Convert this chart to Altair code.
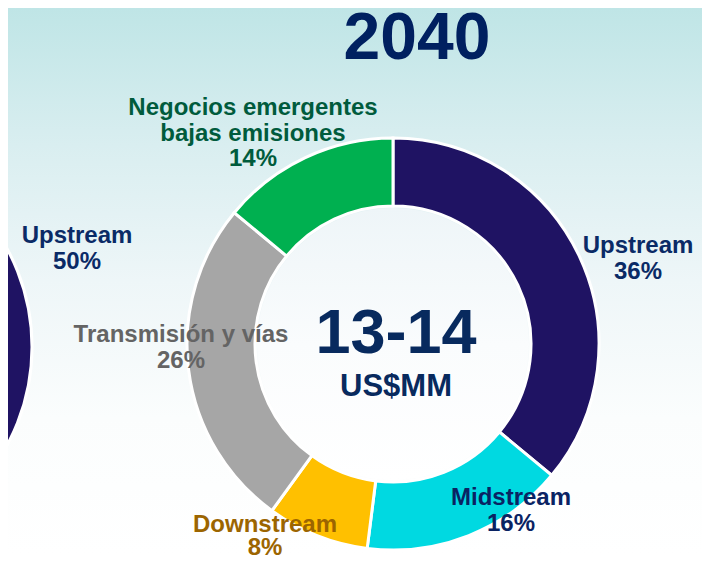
import math
import altair as alt
import pandas as pd

# ---- data ----
categorias = ["Upstream", "Midstream", "Downstream", "Transmisión y vías", "Negocios emergentes bajas emisiones"]
valores = [36, 16, 8, 26, 14]
colores = ["#1f1363", "#00d9e1", "#ffc000", "#a6a6a6", "#00b050"]

izq_categorias = ["Upstream"]
izq_valores = [50]

etiquetas = ["Upstream\n36%", "Midstream\n16%", "Downstream\n8%", "Transmisión y vías\n26%",
             "Negocios emergentes\nbajas emisiones\n14%"]
etiqueta_colores = ["#0a2a66", "#0a2363", "#9c6500", "#646464", "#005b3c"]
etiqueta_izq = "Upstream\n50%"
titulo = "2040"
centro_valor = "13-14"
centro_unidad = "US$MM"

W, H = 694, 547
CX, CY = 385, 336          # main donut centre (chart coords)
LCX, LCY = -182, 339       # left (cut-off) donut centre
R_OUT, R_IN = 206, 138

df = pd.DataFrame({"categoria": categorias, "valor": valores, "orden": list(range(len(valores)))})
df_izq = pd.DataFrame({"categoria": izq_categorias, "valor": izq_valores, "orden": [0]})

theta_scale = alt.Scale(domain=[0, 100])

bg = alt.Chart(pd.DataFrame({"a": [0]})).mark_rect(
    fill=alt.Gradient(gradient="linear", x1=0, x2=0, y1=0, y2=1,
                      stops=[alt.GradientStop(offset=0, color="#bfe5e6"),
                             alt.GradientStop(offset=0.25, color="#d9eef0"),
                             alt.GradientStop(offset=0.5, color="#eef6f8"),
                             alt.GradientStop(offset=0.75, color="#fbfdfd"),
                             alt.GradientStop(offset=1, color="#ffffff")])
).encode(x=alt.value(0), x2=alt.value(W), y=alt.value(0), y2=alt.value(H))

izq = alt.Chart(df_izq).mark_arc(innerRadius=R_IN, outerRadius=R_OUT, stroke="white", strokeWidth=3).encode(
    theta=alt.Theta("valor:Q", stack=True, scale=theta_scale),
    order=alt.Order("orden:Q"),
    color=alt.value("#1f1363"),
    x=alt.value(LCX), y=alt.value(LCY),
)

dona = alt.Chart(df).mark_arc(innerRadius=R_IN, outerRadius=R_OUT, stroke="white", strokeWidth=3).encode(
    theta=alt.Theta("valor:Q", stack=True, scale=theta_scale),
    order=alt.Order("orden:Q"),
    color=alt.Color("categoria:N", scale=alt.Scale(domain=categorias, range=colores), legend=None),
    x=alt.value(CX), y=alt.value(CY),
)

disco = alt.Chart(pd.DataFrame({"a": [0]})).mark_arc(
    outerRadius=R_IN - 2,
    fill=alt.Gradient(gradient="linear", x1=0, x2=0, y1=0, y2=1,
                      stops=[alt.GradientStop(offset=0, color="#eef5f8"),
                             alt.GradientStop(offset=0.5, color="#fafcfd"),
                             alt.GradientStop(offset=1, color="#ffffff")])
).encode(theta=alt.value(0), theta2=alt.value(2 * math.pi), x=alt.value(CX), y=alt.value(CY))

FONT = "Liberation Sans, Arial, sans-serif"


def texto(t, x, y, size, color, lh=25.5):
    return alt.Chart(pd.DataFrame({"t": [t]})).mark_text(
        font=FONT, fontWeight="bold", fontSize=size, color=color, align="center",
        baseline="alphabetic", lineBreak="\n", lineHeight=lh
    ).encode(text="t:N", x=alt.value(x), y=alt.value(y))


pos = [(630, 245), (503, 497), (257, 524), (173, 334), (245, 107)]
alturas = [25.5, 25.5, 23, 25.5, 25.5]
capas = [bg, izq, dona, disco]
for (t, c, (px, py), lh) in zip(etiquetas, etiqueta_colores, pos, alturas):
    capas.append(texto(t, px, py, 24, c, lh))
capas.append(texto(etiqueta_izq, 69, 235, 24, "#0a2a66"))
capas.append(texto(titulo, 409, 51, 66, "#002060"))
capas.append(texto(centro_valor, 388, 345, 63, "#082a5e"))
capas.append(texto(centro_unidad, 388, 388, 31, "#082a5e"))

chart = alt.layer(*capas).properties(
    width=W, height=H, padding=0,
    autosize=alt.AutoSizeParams(type="none"),
    background="white",
).configure_view(stroke=None)

chart.save("out.html", embed_options={"renderer": "svg", "actions": False})
